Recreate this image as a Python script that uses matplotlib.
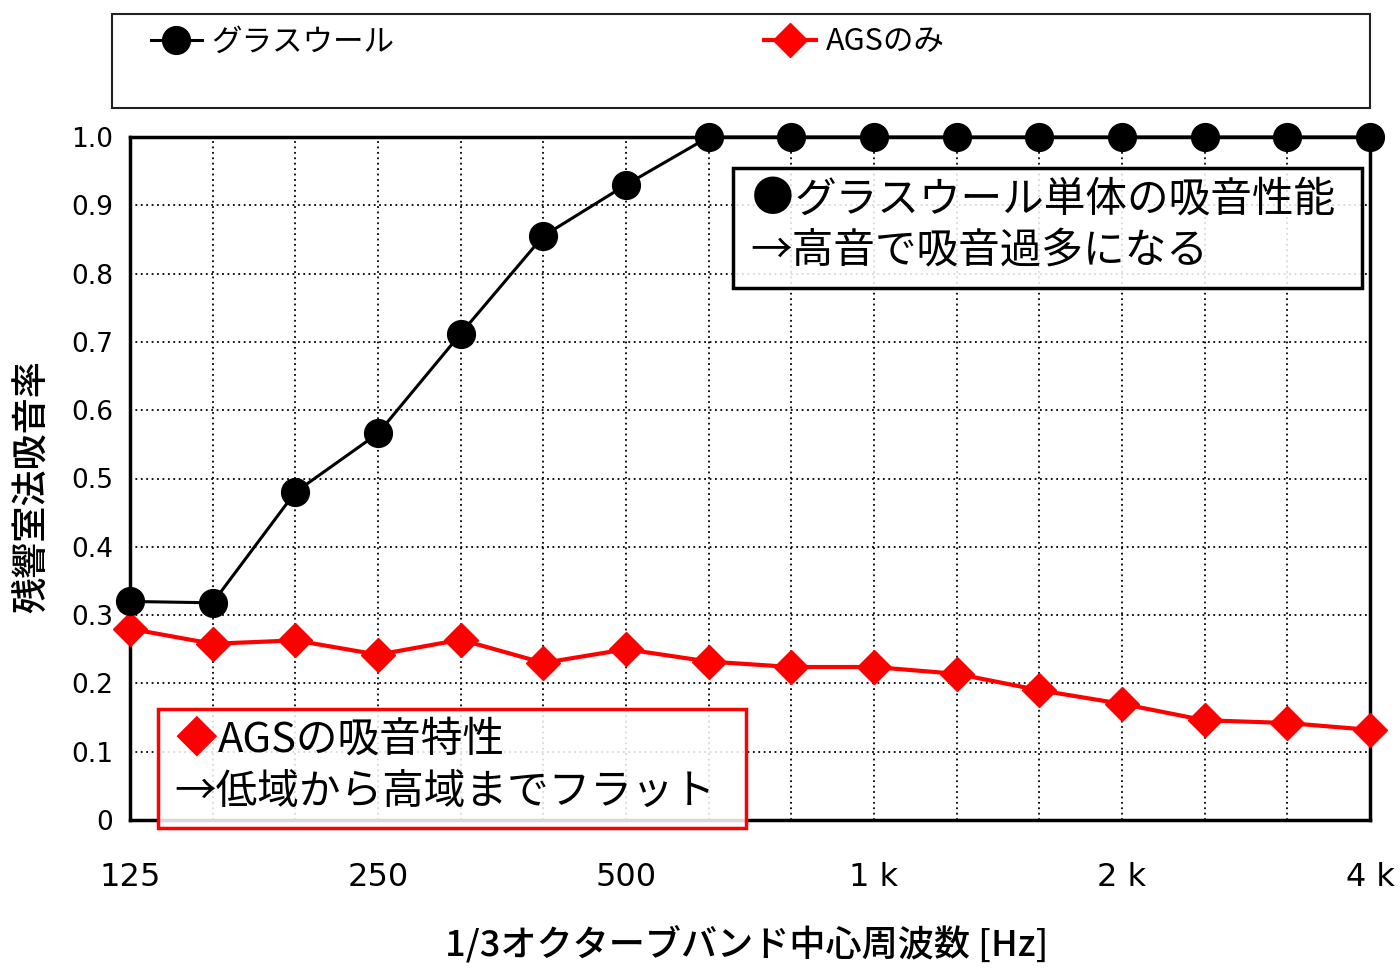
import matplotlib
matplotlib.use("Agg")
import matplotlib.pyplot as plt
from matplotlib.patches import Rectangle

plt.rcParams['font.family'] = ['Noto Sans CJK JP', 'DejaVu Sans']

# ---- data ----
freq_labels = ["125", "160", "200", "250", "315", "400", "500", "630", "800",
               "1k", "1.25k", "1.6k", "2k", "2.5k", "3.15k", "4k"]
tick_positions = [0, 3, 6, 9, 12, 15]
tick_labels = ["125", "250", "500", "1 k", "2 k", "4 k"]
glasswool = [0.32, 0.318, 0.48, 0.566, 0.712, 0.855, 0.93, 1.0, 1.0, 1.0,
             1.0, 1.0, 1.0, 1.0, 1.0, 1.0]
ags_only = [0.28, 0.258, 0.263, 0.242, 0.264, 0.23, 0.25, 0.232, 0.224, 0.224,
            0.214, 0.19, 0.17, 0.146, 0.142, 0.132]
yticks = [0, 0.1, 0.2, 0.3, 0.4, 0.5, 0.6, 0.7, 0.8, 0.9, 1.0]
ytick_labels = ["0", "0.1", "0.2", "0.3", "0.4", "0.5", "0.6", "0.7", "0.8", "0.9", "1.0"]

W, H = 1400, 968
fig = plt.figure(figsize=(W / 100, H / 100), dpi=100)


def fx(x):
    return x / W


def fy(y):
    return 1 - y / H


ax = fig.add_axes([fx(130), fy(820), (1370 - 130) / W, (820 - 137) / H])
x = list(range(len(freq_labels)))

l1, = ax.plot(x, glasswool, color='black', lw=2.2, marker='o', ms=20,
              label='グラスウール', zorder=4, clip_on=False)
l2, = ax.plot(x, ags_only, color='#ff0000', lw=3, marker='D', ms=17,
              label='AGSのみ', zorder=3, clip_on=False)

ax.set_xlim(0, 15)
ax.set_ylim(0, 1.0)
ax.set_xticks(x, minor=True)
ax.set_xticks(tick_positions)
ax.set_xticklabels(tick_labels, fontsize=23, family='DejaVu Sans')
ax.set_yticks(yticks)
ax.set_yticklabels(ytick_labels, fontsize=19, family='DejaVu Sans')
ax.tick_params(axis='x', which='both', length=0, pad=30)
ax.tick_params(axis='y', length=0, pad=12)
ax.grid(True, which='both', axis='x', linestyle=(0, (1, 2)), color='black', lw=1.3)
ax.grid(True, which='major', axis='y', linestyle=(0, (1, 2)), color='black', lw=1.3)
for s in ax.spines.values():
    s.set_linewidth(2.5)
    s.set_color('black')

fig.text(fx(747), fy(945), '1/3オクターブバンド中心周波数 [Hz]', fontsize=26,
         ha='center', va='center', fontweight='medium')
fig.text(fx(32), fy(487), '残響室法吸音率', fontsize=26, rotation=90,
         ha='center', va='center', fontweight='medium')

# legend box
fig.patches.append(Rectangle((fx(112), fy(108)), (1370 - 112) / W, (108 - 14) / H,
                             transform=fig.transFigure, fill=False,
                             edgecolor='#222222', lw=1.5))
fig.legend(handles=[l1, l2], loc='center left', bbox_to_anchor=(fx(123), fy(42)),
           ncol=2, frameon=False, fontsize=22, handlelength=1.7,
           columnspacing=12.1, handletextpad=0.3, markerscale=1.0)

# annotation boxes
fig.patches.append(Rectangle((fx(733), fy(288)), (1362 - 733) / W, (288 - 168) / H,
                             transform=fig.transFigure, facecolor=(1, 1, 1, 0.85),
                             edgecolor='black', lw=2.5, zorder=5))
fig.text(fx(752), fy(200), '●', fontsize=30, color='black', va='center', ha='left', zorder=6)
fig.text(fx(795), fy(200), 'グラスウール単体の吸音性能', fontsize=30, va='center', ha='left', zorder=6)
fig.text(fx(750), fy(251), '→高音で吸音過多になる', fontsize=30, va='center', ha='left', zorder=6)

fig.patches.append(Rectangle((fx(158), fy(828)), (746 - 158) / W, (828 - 709) / H,
                             transform=fig.transFigure, facecolor=(1, 1, 1, 0.85),
                             edgecolor='#ff0000', lw=2.5, zorder=5))
fig.text(fx(176), fy(740), '◆', fontsize=30, color='#ff0000', va='center', ha='left', zorder=6)
fig.text(fx(218), fy(740), 'AGSの吸音特性', fontsize=30, va='center', ha='left', zorder=6)
fig.text(fx(174), fy(792), '→低域から高域までフラット', fontsize=30, va='center', ha='left', zorder=6)

fig.savefig('out.png', dpi=100)
